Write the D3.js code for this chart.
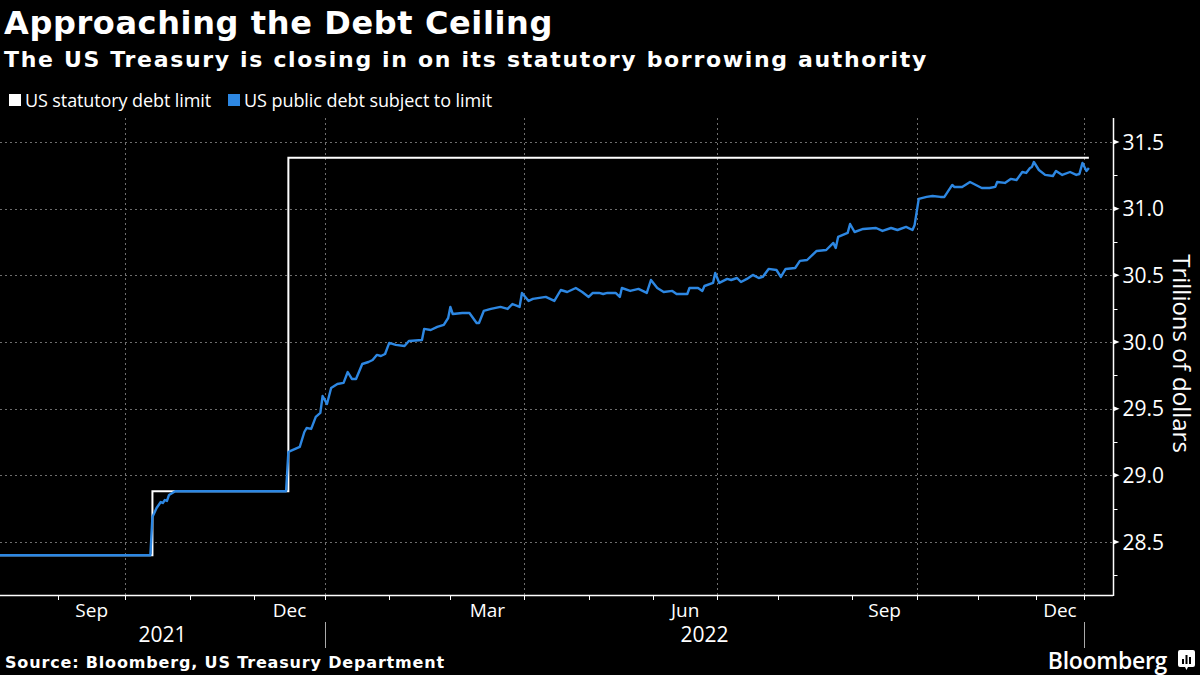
<!DOCTYPE html>
<html>
<head>
<meta charset="utf-8">
<script src="https://cdn.jsdelivr.net/npm/d3@7"></script>
<style>
  html, body { margin: 0; padding: 0; background: #000; }
  svg { display: block; }
  text { fill: #fff; font-family: "Open Sans", "Noto Sans", sans-serif; }
  .bold { font-family: "DejaVu Sans", "Open Sans", sans-serif; font-weight: 700; }
</style>
</head>
<body>
<script>
// Month boundaries of the x axis and how many daily readings each month holds
// (Bloomberg spaces the axis by observation, not by calendar day).
const monthBounds = ["2021-08-05", "2021-09-01", "2021-10-01", "2021-11-01", "2021-12-01",
  "2022-01-01", "2022-02-01", "2022-03-01", "2022-04-01", "2022-05-01", "2022-06-01",
  "2022-07-01", "2022-08-01", "2022-09-01", "2022-10-01", "2022-11-01", "2022-12-01",
  "2023-01-01", "2023-01-13"];
const readingsPerMonth = [18, 21, 20, 20, 22, 20, 19, 23, 20, 20, 20, 19, 23, 20, 19, 18, 15, 9];

// US statutory debt limit (trillions), step changes
const limitDates = ["2021-08-05", "2021-10-14", "2021-12-16", "2023-01-03"];
const limitValues = [28.401, 28.881, 31.381, 31.381];

// US public debt subject to limit (trillions)
const debtDates = ["2021-08-05", "2021-10-13", "2021-10-14", "2021-10-16", "2021-10-18", "2021-10-19",
  "2021-10-20", "2021-10-21", "2021-10-22", "2021-10-25", "2021-12-15", "2021-12-16", "2021-12-17",
  "2021-12-21", "2021-12-23", "2021-12-24", "2021-12-26", "2021-12-28", "2021-12-30", "2021-12-31",
  "2022-01-02", "2022-01-04", "2022-01-07", "2022-01-10", "2022-01-12", "2022-01-14", "2022-01-16",
  "2022-01-19", "2022-01-22", "2022-01-24", "2022-01-26", "2022-01-28", "2022-01-30", "2022-02-01",
  "2022-02-04", "2022-02-08", "2022-02-10", "2022-02-16", "2022-02-17", "2022-02-20", "2022-02-23",
  "2022-02-26", "2022-02-28", "2022-03-01", "2022-03-02", "2022-03-06", "2022-03-09", "2022-03-12",
  "2022-03-13", "2022-03-15", "2022-03-18", "2022-03-22", "2022-03-25", "2022-03-27", "2022-03-30",
  "2022-03-31", "2022-04-03", "2022-04-05", "2022-04-11", "2022-04-15", "2022-04-18", "2022-04-21",
  "2022-04-25", "2022-04-28", "2022-05-01", "2022-05-03", "2022-05-06", "2022-05-08", "2022-05-10",
  "2022-05-14", "2022-05-16", "2022-05-17", "2022-05-21", "2022-05-25", "2022-05-29", "2022-05-31",
  "2022-06-03", "2022-06-06", "2022-06-10", "2022-06-12", "2022-06-17", "2022-06-18", "2022-06-22",
  "2022-06-24", "2022-06-25", "2022-06-29", "2022-06-30", "2022-07-02", "2022-07-06", "2022-07-08",
  "2022-07-11", "2022-07-13", "2022-07-16", "2022-07-19", "2022-07-22", "2022-07-24", "2022-07-27",
  "2022-07-31", "2022-08-02", "2022-08-04", "2022-08-08", "2022-08-10", "2022-08-13", "2022-08-17",
  "2022-08-21", "2022-08-24", "2022-08-25", "2022-08-26", "2022-08-30", "2022-08-31", "2022-09-02",
  "2022-09-06", "2022-09-12", "2022-09-15", "2022-09-19", "2022-09-22", "2022-09-26", "2022-09-29",
  "2022-09-30", "2022-10-02", "2022-10-06", "2022-10-09", "2022-10-13", "2022-10-15", "2022-10-19",
  "2022-10-20", "2022-10-24", "2022-10-28", "2022-10-30", "2022-11-03", "2022-11-07", "2022-11-10",
  "2022-11-11", "2022-11-15", "2022-11-18", "2022-11-21", "2022-11-24", "2022-11-26", "2022-11-28",
  "2022-11-29", "2022-11-30", "2022-12-03", "2022-12-07", "2022-12-12", "2022-12-14", "2022-12-18",
  "2022-12-23", "2022-12-27", "2022-12-29", "2022-12-31", "2023-01-02", "2023-01-03"];
const debtValues = [28.401, 28.401, 28.688, 28.755, 28.800, 28.793,
  28.815, 28.808, 28.853, 28.881, 28.881, 29.175, 29.183,
  29.213, 29.325, 29.355, 29.348, 29.438, 29.468, 29.595,
  29.535, 29.655, 29.685, 29.693, 29.775, 29.723, 29.723,
  29.835, 29.850, 29.865, 29.903, 29.895, 29.910, 29.993,
  29.978, 29.970, 30.008, 30.015, 30.098, 30.090, 30.113,
  30.128, 30.180, 30.263, 30.210, 30.218, 30.218, 30.143,
  30.143, 30.233, 30.248, 30.263, 30.248, 30.285, 30.263,
  30.368, 30.308, 30.323, 30.338, 30.308, 30.390, 30.375,
  30.405, 30.375, 30.338, 30.368, 30.368, 30.360, 30.368,
  30.368, 30.338, 30.405, 30.383, 30.398, 30.368, 30.465,
  30.405, 30.375, 30.383, 30.360, 30.360, 30.405, 30.405,
  30.383, 30.420, 30.443, 30.518, 30.443, 30.473, 30.465,
  30.480, 30.450, 30.473, 30.503, 30.480, 30.488, 30.548,
  30.540, 30.488, 30.548, 30.555, 30.608, 30.615, 30.683,
  30.690, 30.743, 30.705, 30.788, 30.818, 30.885, 30.825,
  30.848, 30.855, 30.833, 30.855, 30.840, 30.863, 30.840,
  30.878, 31.073, 31.088, 31.095, 31.088, 31.088, 31.178,
  31.163, 31.163, 31.200, 31.185, 31.155, 31.155, 31.163,
  31.200, 31.193, 31.223, 31.215, 31.275, 31.268, 31.305,
  31.313, 31.350, 31.290, 31.253, 31.245, 31.283, 31.253,
  31.275, 31.253, 31.260, 31.343, 31.283, 31.305];

const yMajorTicks = [28.5, 29.0, 29.5, 30.0, 30.5, 31.0, 31.5];
const yMinorTicks = [28.25, 28.75, 29.25, 29.75, 30.25, 30.75, 31.25];

const W = 1200, H = 675;
const plot = { left: 0, right: 1113, top: 118, bottom: 595 };
const parse = d3.utcParse("%Y-%m-%d");
const blue = "#2d87e2";

const svg = d3.select("body").append("svg")
  .attr("width", W).attr("height", H)
  .style("background", "#000");

// stretch a text's letter spacing so it spans the given width
function fit(sel, width) {
  const n = sel.text().length;
  const w = sel.node().getComputedTextLength();
  sel.style("letter-spacing", ((width - w) / n) + "px");
  return sel;
}

// x scale: piecewise time scale laid out by readings per month
const cum = [0];
readingsPerMonth.forEach((n, i) => cum.push(cum[i] + n));
const slot = d3.scaleLinear().domain([0, cum[cum.length - 1]]).range([plot.left, plot.right]);
const x = d3.scaleUtc()
  .domain(monthBounds.map(parse))
  .range(cum.map(slot));

const y = d3.scaleLinear().domain([28.1025, 31.68]).range([plot.bottom, plot.top]);

// Titles
fit(svg.append("text").attr("class", "bold").attr("x", 4).attr("y", 34)
  .style("font-size", "32px")
  .text("Approaching the Debt Ceiling"), 549);
fit(svg.append("text").attr("class", "bold").attr("x", 4).attr("y", 67)
  .style("font-size", "22px")
  .text("The US Treasury is closing in on its statutory borrowing authority"), 924);

// Legend
const legend = [
  { label: "US statutory debt limit", color: "#fff", x: 9, w: 186 },
  { label: "US public debt subject to limit", color: blue, x: 228, w: 248 }
];
legend.forEach(l => {
  svg.append("rect").attr("x", l.x).attr("y", 94).attr("width", 12).attr("height", 12).attr("fill", l.color);
  fit(svg.append("text").attr("x", l.x + 16).attr("y", 107).style("font-size", "18px").text(l.label), l.w);
});

// Grid
const grid = svg.append("g").attr("stroke", "#6e6e6e").attr("stroke-dasharray", "2,3").attr("stroke-width", 1);
grid.selectAll(".hg").data(yMajorTicks).join("line")
  .attr("x1", plot.left).attr("x2", plot.right)
  .attr("y1", d => Math.round(y(d)) + 0.5).attr("y2", d => Math.round(y(d)) + 0.5);

const monthStarts = d3.utcMonth.range(parse("2021-09-01"), parse("2023-01-02"));
const quarterStarts = monthStarts.filter(d => d.getUTCMonth() % 3 === 0);
grid.selectAll(".vg").data(quarterStarts).join("line")
  .attr("x1", d => Math.round(x(d)) + 0.5).attr("x2", d => Math.round(x(d)) + 0.5)
  .attr("y1", plot.top).attr("y2", plot.bottom);

// Lines
const limitData = limitDates.map((d, i) => ({ date: parse(d), value: limitValues[i] }));
const debtData = debtDates.map((d, i) => ({ date: parse(d), value: debtValues[i] }));

svg.append("path").datum(limitData)
  .attr("fill", "none").attr("stroke", "#fff").attr("stroke-width", 2)
  .attr("d", d3.line().curve(d3.curveStepAfter).x(d => x(d.date)).y(d => y(d.value)));

svg.append("path").datum(debtData)
  .attr("fill", "none").attr("stroke", blue).attr("stroke-width", 2.4)
  .attr("stroke-linejoin", "round")
  .attr("d", d3.line().x(d => x(d.date)).y(d => y(d.value)));

// X axis
const xAxis = svg.append("g");
xAxis.append("line").attr("x1", plot.left).attr("x2", plot.right)
  .attr("y1", plot.bottom + 0.5).attr("y2", plot.bottom + 0.5)
  .attr("stroke", "#fff").attr("stroke-width", 1.5);
xAxis.selectAll(".tick").data(monthStarts).join("line")
  .attr("x1", d => Math.round(x(d)) + 0.5).attr("x2", d => Math.round(x(d)) + 0.5)
  .attr("y1", plot.bottom).attr("y2", plot.bottom + 5)
  .attr("stroke", "#fff").attr("stroke-width", 1);

const labelMonths = monthStarts.filter(d => (d.getUTCMonth() + 1) % 3 === 0);
xAxis.selectAll(".mlab").data(labelMonths).join("text")
  .attr("x", d => (x(d) + x(d3.utcMonth.offset(d, 1))) / 2)
  .attr("y", 617).attr("text-anchor", "middle")
  .style("font-size", "19px")
  .text(d3.utcFormat("%b"));

const yearStarts = [parse("2022-01-01"), parse("2023-01-01")];
xAxis.selectAll(".ysep").data(yearStarts).join("line")
  .attr("x1", d => Math.round(x(d)) + 0.5).attr("x2", d => Math.round(x(d)) + 0.5)
  .attr("y1", 622).attr("y2", 648)
  .attr("stroke", "#aaa").attr("stroke-width", 1);

const yearSpans = [
  { year: "2021", from: x.domain()[0], to: yearStarts[0] },
  { year: "2022", from: yearStarts[0], to: yearStarts[1] }
];
xAxis.selectAll(".ylab").data(yearSpans).join("text")
  .attr("x", d => (x(d.from) + x(d.to)) / 2)
  .attr("y", 642).attr("text-anchor", "middle")
  .style("font-size", "21px")
  .text(d => d.year);

// Y axis
const yAxis = svg.append("g").attr("transform", `translate(${plot.right + 0.5},0)`);
yAxis.append("line").attr("y1", plot.top).attr("y2", plot.bottom + 1)
  .attr("stroke", "#fff").attr("stroke-width", 1.5);
yAxis.selectAll(".minor").data(yMinorTicks).join("line")
  .attr("x1", 0).attr("x2", 4)
  .attr("y1", d => Math.round(y(d)) + 0.5).attr("y2", d => Math.round(y(d)) + 0.5)
  .attr("stroke", "#fff");
yAxis.selectAll(".major").data(yMajorTicks).join("path")
  .attr("d", d => `M0,${y(d) - 2.5}L6,${y(d)}L0,${y(d) + 2.5}Z`)
  .attr("fill", "#fff");
yAxis.selectAll(".ylab").data(yMajorTicks).join("text")
  .attr("x", 9).attr("y", d => y(d) + 7.5)
  .style("font-size", "21px")
  .text(d3.format(".1f"));

svg.append("text")
  .attr("transform", `translate(1173,${(plot.top + plot.bottom) / 2 - 3}) rotate(90)`)
  .attr("text-anchor", "middle")
  .style("font-size", "24px")
  .text("Trillions of dollars");

// Footer
fit(svg.append("text").attr("class", "bold").attr("x", 5).attr("y", 668)
  .style("font-size", "16px")
  .text("Source: Bloomberg, US Treasury Department"), 440);

svg.append("text").attr("x", 1167).attr("y", 669).attr("text-anchor", "end")
  .style("font-size", "23px").style("font-weight", 600).style("letter-spacing", "-0.3px")
  .text("Bloomberg");
const logo = svg.append("g").attr("transform", "translate(1178,650)");
logo.append("path").attr("d", "M0,2Q0,0 2,0H15Q17,0 17,2V15Q17,17 15,17H10L8.5,20L7,17H2Q0,17 0,15Z").attr("fill", "#fff");
[[4, 9], [7.5, 5], [11, 7]].forEach(([bx, by]) => {
  logo.append("rect").attr("x", bx).attr("y", by).attr("width", 2).attr("height", 14 - by).attr("fill", "#000");
});
</script>
</body>
</html>
